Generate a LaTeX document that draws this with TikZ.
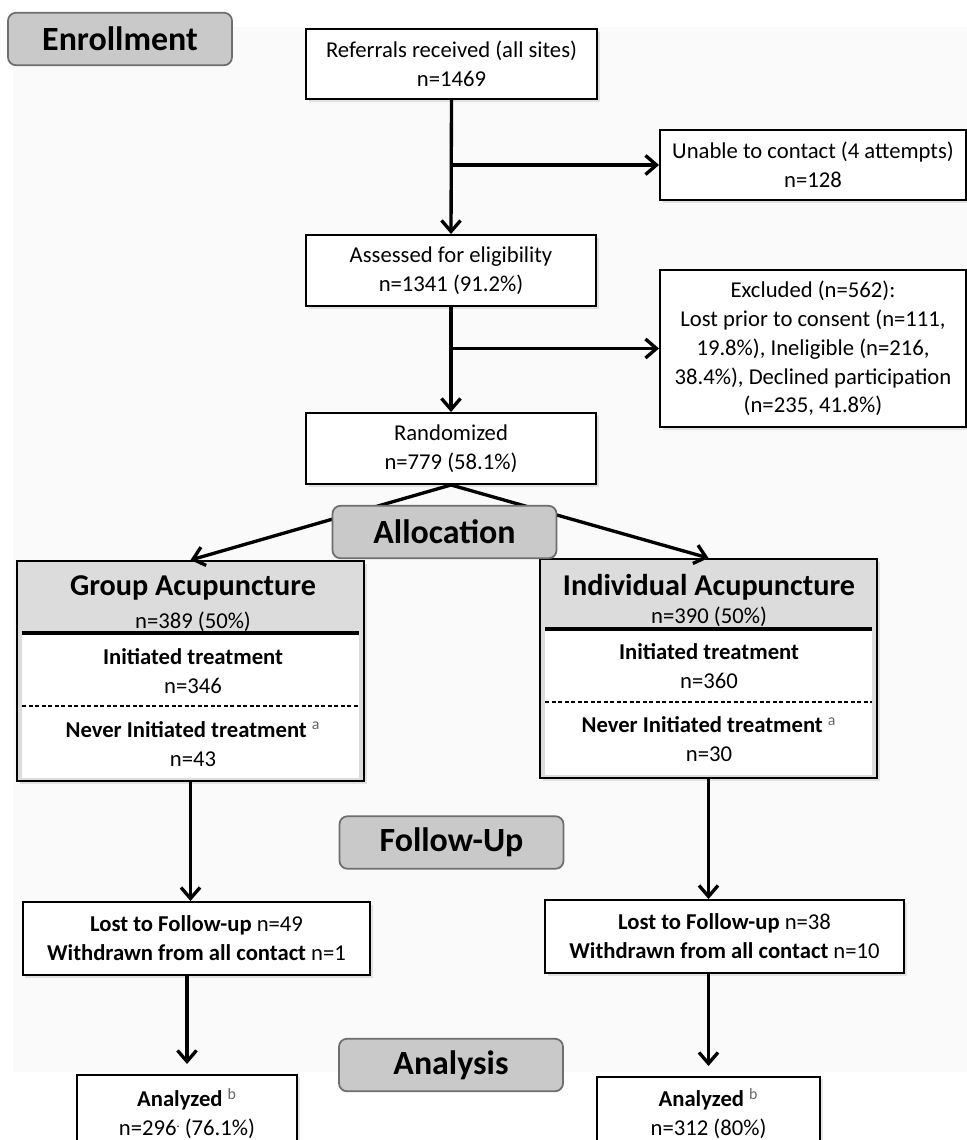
\documentclass[tikz,border=0pt]{standalone}
\usepackage{fontspec}
\setmainfont{Carlito}
\usetikzlibrary{arrows.meta}
\usetikzlibrary{calc}
\usetikzlibrary{shadows}

\definecolor{phasefill}{HTML}{C9C9C9}
\definecolor{phaseedge}{HTML}{6E6E6E}
\definecolor{headfill}{HTML}{DCDCDD}
\definecolor{panel}{HTML}{FAFAFA}

\newcommand{\fnmark}[1]{\textsuperscript{\textcolor{black!60}{#1}}}

\tikzset{
	flowbox/.style={draw, line width=1.1pt, fill=white, align=center, inner sep=0pt,
		font=\fontsize{12.9}{16.4}\selectfont,
		drop shadow={shadow xshift=0.05cm, shadow yshift=-0.05cm, opacity=0.2}},
	armbox/.style={draw, line width=1.1pt, fill=headfill, inner sep=0pt,
		drop shadow={shadow xshift=0.05cm, shadow yshift=-0.05cm, opacity=0.2}},
	armtitle/.style={font=\fontsize{17.2}{20}\selectfont\bfseries, inner sep=0pt},
	armtext/.style={font=\fontsize{12.9}{16.4}\selectfont, align=center, inner sep=0pt},
	phase/.style={draw=phaseedge, line width=1pt, fill=phasefill, rounded corners=0.16cm,
		minimum width=4.48cm, minimum height=1.05cm, font=\fontsize{19.3}{22}\selectfont\bfseries},
	flow/.style={line width=1.9pt, -{Straight Barb[length=0.22cm, width=0.38cm]}},
}

\begin{document}
\begin{tikzpicture}
		\useasboundingbox (0, 0) rectangle (19.34, -22.8);
		\clip (0, 0) rectangle (19.34, -22.8);
		\fill[panel] (0.26, -0.54) rectangle (19.34, -21.44);

		% enrollment column
		\node[flowbox, minimum width=5.82cm, minimum height=1.4cm] (ref) at (9.03, -1.28) {Referrals received (all sites)\\n=1469};
		\node[flowbox, minimum width=6.12cm, minimum height=1.4cm] (unable) at (16.26, -3.3) {Unable to contact (4 attempts)\\n=128};
		\node[flowbox, minimum width=5.8cm, minimum height=1.42cm] (assess) at (9.02, -5.41) {Assessed for eligibility\\n=1341 (91.2\%)};
		\node[flowbox, minimum width=6.12cm, minimum height=3.14cm] (excl) at (16.26, -6.97) {Excluded (n=562):\\Lost prior to consent (n=111,\\19.8\%), Ineligible (n=216,\\38.4\%), Declined participation\\(n=235, 41.8\%)};
		\node[flowbox, minimum width=5.8cm, minimum height=1.42cm] (rand) at (9.02, -8.97) {Randomized\\n=779 (58.1\%)};

		% group arm
		\node[armbox, minimum width=6.94cm, minimum height=4.4cm] (grp) at (3.81, -13.42) {};
		\fill[white] ($(grp.south west)+(0.12, 0.08)$) rectangle ($(grp.north east)+(-0.12, -1.46)$);
		\draw[line width=1.8pt] ($(grp.north west)+(0.12, -1.46)$) -- ($(grp.north east)+(-0.12, -1.46)$);
		\draw[line width=0.8pt, dash pattern=on 0.08cm off 0.05cm] ($(grp.north west)+(0.12, -2.92)$) -- ($(grp.north east)+(-0.12, -2.92)$);
		\node[armtitle] (grpname) at (3.86, -11.76) {Group Acupuncture};
		\node[armtext] (grpn) at (3.86, -12.44) {n=389 (50\%)};
		\node[armtext] (grpinit) at (3.86, -13.43) {\textbf{Initiated treatment}\\n=346};
		\node[armtext] (grpnever) at (3.86, -14.88) {\textbf{Never Initiated treatment} \fnmark{a}\\n=43};

		% individual arm
		\node[armbox, minimum width=6.74cm, minimum height=4.38cm] (indiv) at (14.17, -13.37) {};
		\fill[white] ($(indiv.south west)+(0.12, 0.08)$) rectangle ($(indiv.north east)+(-0.12, -1.42)$);
		\draw[line width=1.8pt] ($(indiv.north west)+(0.12, -1.42)$) -- ($(indiv.north east)+(-0.12, -1.42)$);
		\draw[line width=0.8pt, dash pattern=on 0.08cm off 0.05cm] ($(indiv.north west)+(0.12, -2.88)$) -- ($(indiv.north east)+(-0.12, -2.88)$);
		\node[armtitle] (indivname) at (14.18, -11.74) {Individual Acupuncture};
		\node[armtext] (indivn) at (14.18, -12.34) {n=390 (50\%)};
		\node[armtext] (indivinit) at (14.18, -13.33) {\textbf{Initiated treatment}\\n=360};
		\node[armtext] (indivnever) at (14.18, -14.79) {\textbf{Never Initiated treatment} \fnmark{a}\\n=30};

		% follow-up and analysis
		\node[flowbox, minimum width=6.94cm, minimum height=1.46cm] (lostL) at (3.93, -18.77) {\textbf{Lost to Follow-up} n=49\\\textbf{Withdrawn from all contact} n=1};
		\node[flowbox, minimum width=7.18cm, minimum height=1.46cm] (lostR) at (14.49, -18.73) {\textbf{Lost to Follow-up} n=38\\\textbf{Withdrawn from all contact} n=10};
		\node[flowbox, anchor=north, minimum width=4.4cm, minimum height=1.54cm] (anaL) at (3.74, -21.48) {\textbf{Analyzed} \fnmark{b}\\n=296\raisebox{0.75ex}{\scriptsize .} (76.1\%)};
		\node[flowbox, anchor=north, minimum width=4.46cm, minimum height=1.46cm] (anaR) at (14.17, -21.52) {\textbf{Analyzed} \fnmark{b}\\n=312 (80\%)};

		% connectors
		\draw[flow] (ref.south) -- (assess.north);
		\draw[flow] (ref.south |- unable.west) -- (unable.west);
		\draw[flow] (assess.south) -- (rand.north);
		\draw[flow] (assess.south |- excl.west) -- (excl.west);
		\draw[flow] (rand.south) -- (grp.north);
		\draw[flow] (rand.south) -- (indiv.north);
		\draw[flow] (grp.south) -- (grp.south |- lostL.north);
		\draw[flow] (indiv.south) -- (indiv.south |- lostR.north);
		\draw[flow, shorten >=0.2cm] (anaL.north |- lostL.south) -- (anaL.north);
		\draw[flow, shorten >=0.2cm] (anaR.north |- lostR.south) -- (anaR.north);

		% phase labels on top
		\node[phase] (enrol) at (2.4, -0.78) {Enrollment};
		\node[phase] (alloc) at (8.89, -10.64) {Allocation};
		\node[phase] (follow) at (9.03, -16.85) {Follow-Up};
		\node[phase] (analysis) at (9.02, -21.3) {Analysis};
	\end{tikzpicture}
\end{document}
